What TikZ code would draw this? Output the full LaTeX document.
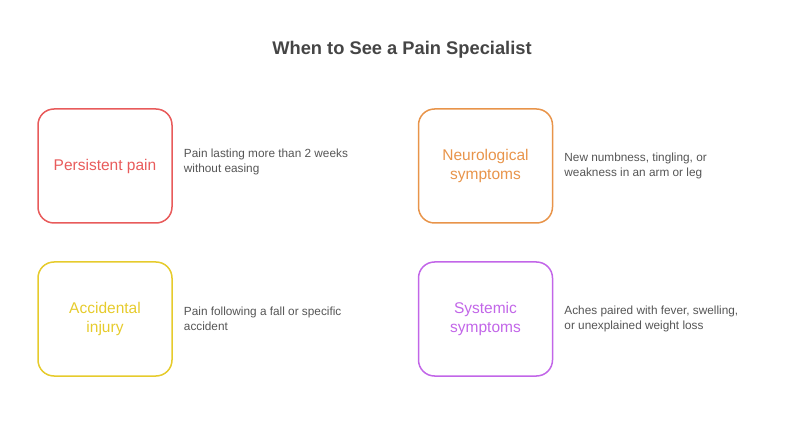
\documentclass[tikz,border=0pt]{standalone}
\usepackage{fontspec}
\setmainfont{Liberation Sans}
\usetikzlibrary{positioning}
\definecolor{redc}{HTML}{E85B5B}
\definecolor{orangec}{HTML}{E8944A}
\definecolor{yellowc}{HTML}{E6CB2C}
\definecolor{purplec}{HTML}{C266E8}
\definecolor{descc}{HTML}{555555}
\definecolor{titlec}{HTML}{454545}
\tikzset{sign/.style={draw,rectangle,rounded corners=16pt,line width=1.5pt,minimum width=134pt,minimum height=114pt,align=center,font=\fontsize{15.5}{19}\selectfont},
desc/.style={inner sep=0pt,align=left,text=descc,font=\fontsize{11.8}{14.5}\selectfont}}

\begin{document}
\begin{tikzpicture}[x=1pt,y=-1pt]
\useasboundingbox (0,0) rectangle (800,443);
\node[text=titlec,font=\fontsize{18.3}{22}\selectfont\bfseries] (title) at (402,50) {When to See a Pain Specialist};
\node[sign,draw=redc,text=redc] (pain) at (105,166) {Persistent pain};
\node[sign,draw=orangec,text=orangec] (neuro) at (485.5,166) {Neurological\\symptoms};
\node[sign,draw=yellowc,text=yellowc] (injury) at (105,319) {Accidental\\injury};
\node[sign,draw=purplec,text=purplec] (system) at (485.5,319) {Systemic\\symptoms};
\node[desc,right=11pt of pain,yshift=4pt] (paintext) {Pain lasting more than 2 weeks\\without easing};
\node[desc,right=11pt of neuro] (neurotext) {New numbness, tingling, or\\weakness in an arm or leg};
\node[desc,right=11pt of injury] (injurytext) {Pain following a fall or specific\\accident};
\node[desc,right=11pt of system] (systemtext) {Aches paired with fever, swelling,\\or unexplained weight loss};
\end{tikzpicture}
\end{document}
